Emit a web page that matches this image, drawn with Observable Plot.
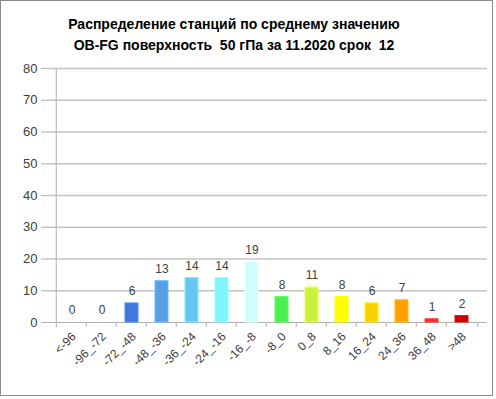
<!DOCTYPE html>
<html>
<head>
<meta charset="utf-8">
<script src="https://cdn.jsdelivr.net/npm/d3@7"></script>
<script src="https://cdn.jsdelivr.net/npm/@observablehq/plot@0.6"></script>
<style>
  html, body { margin: 0; padding: 0; background: #fff; }
  #wrap { position: relative; width: 496px; height: 399px; overflow: hidden; font-family: "Liberation Sans", Arial, sans-serif; }
  #border { position: absolute; left: 0; top: 0; width: 493px; height: 396px; border: 1px solid #8c8c8c; box-sizing: border-box; pointer-events: none; }
  #title { position: absolute; left: 0; top: 14px; width: 468px; text-align: center; font-weight: bold; font-size: 14px; line-height: 21px; color: #000; }
  #chart { position: absolute; left: 0; top: 58px; }
</style>
</head>
<body>
<div id="wrap">
  <div id="title">Распределение станций по среднему значению<br>OB-FG поверхность&nbsp; 50 гПа за 11.2020 срок&nbsp; 12</div>
  <div id="chart"></div>
  <div id="border"></div>
</div>
<script>
const categories = ["<-96", "-96_-72", "-72_-48", "-48_-36", "-36_-24", "-24_-16", "-16_-8", "-8_0", "0_8", "8_16", "16_24", "24_36", "36_48", ">48"];
const counts = [0, 0, 6, 13, 14, 14, 19, 8, 11, 8, 6, 7, 1, 2];
const colors = ["#1f3fb0", "#2f55c8", "#4277dd", "#57a0e5", "#64c7f2", "#7df5fa", "#ccfefe", "#4cee50", "#c9f23e", "#ffff00", "#f8cf00", "#ffa000", "#ff2a2a", "#c80000"];
const yTicks = [0, 10, 20, 30, 40, 50, 60, 70, 80];

const data = categories.map((c, i) => ({cat: c, value: counts[i], color: colors[i]}));

const W = 496, H = 341, ML = 46, MR = 9, MT = 10, MB = 77;
const step = (W - ML - MR) / categories.length;
const txt = "#404040";

const chart = Plot.plot({
  width: W, height: H,
  marginLeft: ML, marginRight: MR, marginTop: MT, marginBottom: MB,
  style: {fontFamily: "Liberation Sans, Arial, sans-serif", fontSize: "12px", color: txt, background: "transparent"},
  x: {domain: categories, padding: 0.58, label: null},
  y: {domain: [0, 80], ticks: yTicks, label: null},
  marks: [
    Plot.gridY(yTicks.filter(t => t > 0), {stroke: "#c3c3c3", strokeOpacity: 1, strokeWidth: 1.5}),
    Plot.ruleY([0], {stroke: "#b0b0b0", strokeWidth: 1}),
    Plot.ruleX([categories[0]], {dx: -step / 2, y1: 0, y2: 80, stroke: "#b0b0b0"}),
    Plot.axisY({ticks: yTicks, tickSize: 5, tickPadding: 4, stroke: "#b0b0b0", fill: txt, fontSize: 13}),
    Plot.axisX({ticks: categories, tickSize: 5, text: null, dx: -step / 2, stroke: "#b0b0b0"}),
    Plot.axisX({ticks: [categories[categories.length - 1]], tickSize: 5, text: null, dx: step / 2, stroke: "#b0b0b0"}),
    Plot.axisX({ticks: categories, tickSize: 0, tickRotate: -45, tickPadding: 0, textAnchor: "end", dx: 2, dy: 12, fill: txt, fontSize: 12, label: null}),
    Plot.barY(data, {x: "cat", y: "value", fill: d => d.color, stroke: d => d3.color(d.color).brighter(0.5).formatHex(), strokeWidth: 1}),
    Plot.text(data, {x: "cat", y: "value", text: d => String(d.value), dy: -12, fill: txt, fontSize: 12})
  ]
});
document.getElementById("chart").appendChild(chart);
</script>
</body>
</html>
